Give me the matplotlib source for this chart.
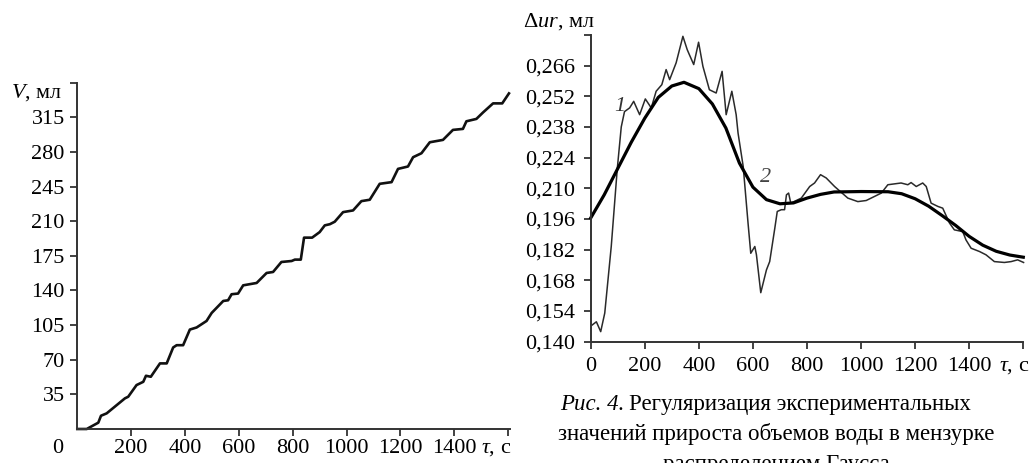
import matplotlib
matplotlib.use("Agg")
import matplotlib.pyplot as plt
from matplotlib.transforms import blended_transform_factory, IdentityTransform

plt.rcParams['font.family'] = ['Liberation Serif', 'DejaVu Serif']
plt.rcParams['mathtext.fontset'] = 'custom'
plt.rcParams['mathtext.rm'] = 'Liberation Serif'
plt.rcParams['mathtext.it'] = 'Liberation Serif:italic'

# ---- data: left chart (V, ml vs tau, s)
left_tau = [0, 35, 78, 88, 109, 177, 189, 220, 245, 255, 273, 307, 332, 356, 369, 393,
            418, 443, 480, 499, 542, 560, 573, 597, 616, 666, 703, 727, 758, 796, 808,
            830, 842, 872, 900, 919, 938, 956, 987, 1024, 1055, 1086, 1123, 1167, 1191,
            1228, 1247, 1278, 1309, 1358, 1395, 1432, 1445, 1482, 1507, 1544, 1578, 1603]
left_V = [0, 0, 6.4, 13.4, 15.8, 31, 32.6, 44.4, 47.7, 53.8, 52.8, 66.3, 66.3, 82.4, 84.7,
          84.7, 100.5, 102.6, 109.2, 117.3, 129.4, 130.1, 136.2, 136.9, 145.2, 147.6,
          157.7, 158.7, 168.8, 169.8, 171.2, 171.2, 193.4, 193.4, 199, 205.8, 207,
          209.5, 219.2, 220.9, 230.3, 231.7, 247.8, 249.5, 262.9, 265.3, 274.7, 278.7,
          289.8, 292.2, 302.3, 303.3, 311, 313.4, 320, 329.1, 329.1, 339.2]
left_yticks = [35, 70, 105, 140, 175, 210, 245, 280, 315]

# ---- data: right chart, curve 1 (experimental) and curve 2 (Gauss regularization)
r1_tau = [5, 21, 37, 52, 76, 98, 113, 125, 144, 159, 181, 202, 224, 242, 263, 279, 292,
          316, 341, 357, 365, 381, 399, 415, 439, 464, 486, 501, 522, 538, 545, 564,
          582, 592, 607, 613, 629, 650, 662, 681, 690, 705, 717, 724, 732, 740, 779,
          810, 828, 850, 871, 902, 951, 988, 1019, 1075, 1099, 1148, 1173, 1185, 1204,
          1228, 1241, 1259, 1284, 1302, 1327, 1345, 1376, 1388, 1407, 1438, 1462, 1493,
          1530, 1555, 1579, 1601]
r1_v = [.1475, .149, .1445, .153, .1834, .2185, .238, .245, .2467, .2497, .2436, .2508,
        .2467, .2543, .2573, .2642, .2596, .2673, .2794, .2733, .271, .2665, .2767,
        .2657, .255, .2535, .2634, .2436, .2543, .2436, .2352, .22, .194, .1803, .1834,
        .1796, .1623, .1727, .1765, .1918, .1994, .2002, .2002, .207, .2078, .2032,
        .2055, .2108, .2124, .2162, .2147, .2108, .2055, .2039, .2044, .2078, .2116,
        .2124, .2116, .2126, .2108, .2124, .2108, .2032, .2017, .2009, .1941, .191,
        .1902, .1864, .1826, .1811, .1796, .1765, .1761, .1765, .1773, .1761]
r2_tau = [0, 50, 100, 150, 200, 250, 300, 345, 400, 450, 500, 550, 600, 650, 700, 750,
          800, 850, 900, 1000, 1100, 1150, 1200, 1250, 1300, 1350, 1400, 1450, 1500,
          1550, 1600]
r2_v = [0.1964, 0.207, 0.219, 0.231, 0.242, 0.2515, 0.2567, 0.2584, 0.2555, 0.2485,
        0.2375, 0.2215, 0.2105, 0.2048, 0.2029, 0.2033, 0.2055, 0.2072, 0.2083, 0.2085,
        0.2084, 0.2075, 0.2052, 0.2018, 0.1975, 0.193, 0.188, 0.184, 0.1812, 0.1795,
        0.1785]
right_yticks = [0.140, 0.154, 0.168, 0.182, 0.196, 0.210, 0.224, 0.238, 0.252, 0.266]
xticks = [200, 400, 600, 800, 1000, 1200, 1400, 1600]
xtick_labels = ['200', '400', '600', '800', '1000', '1200', '1400', '']

caption_fig = "Рис. 4."
caption = ["Регуляризация экспериментальных",
           "значений прироста объемов воды в мензурке",
           "распределением Гаусса"]

W, H = 1035, 463
fig = plt.figure(figsize=(W / 100, H / 100), dpi=100)

FS = 16
AX_COLOR = '#333333'


def style(ax, xpad, ypad):
    for s in ('top', 'right'):
        ax.spines[s].set_visible(False)
    for s in ('left', 'bottom'):
        ax.spines[s].set_linewidth(1.4)
        ax.spines[s].set_color(AX_COLOR)
    ax.tick_params(axis='y', direction='out', length=5, width=1.3, pad=ypad,
                   labelsize=FS, color=AX_COLOR)
    ax.tick_params(axis='x', direction='out', length=5, width=1.3, pad=xpad,
                   labelsize=FS, color=AX_COLOR)


# ---------- left chart
axL = fig.add_axes([77.3 / W, 1 - 429 / H, (509.5 - 77.3) / W, (429 - 82.7) / H])
style(axL, xpad=2.5, ypad=4)
axL.plot(left_tau, left_V, color='#111111', lw=1.9, solid_joinstyle='round',
         clip_on=False)
axL.set_xlim(0, 1605)
axL.set_ylim(0, 350)
axL.set_xticks(xticks)
axL.set_xticklabels(xtick_labels)
axL.set_yticks(left_yticks + [350])
axL.set_yticklabels([str(v) for v in left_yticks] + [''])

# ---------- right chart
axR = fig.add_axes([590.7 / W, 1 - 341.5 / H, (1023.3 - 590.7) / W, (341.5 - 35) / H])
style(axR, xpad=6.5, ypad=6)
axR.plot(r1_tau, r1_v, color='#2a2a2a', lw=1.1, clip_on=False)
axR.plot(r2_tau, r2_v, color='black', lw=2.3, clip_on=False)
axR.set_xlim(0, 1600)
axR.set_ylim(0.140, 0.280)
axR.set_xticks([0] + xticks)
axR.set_xticklabels(['0'] + xtick_labels)
axR.set_yticks(right_yticks + [0.280])
axR.set_yticklabels([f"{v:.3f}".replace('.', ',') for v in right_yticks] + [''])

fig.canvas.draw()
bbL = axL.get_xticklabels()[0].get_window_extent()
bbR = axR.get_xticklabels()[1].get_window_extent()
ycL = (bbL.y0 + bbL.y1) / 2
ycR = (bbR.y0 + bbR.y1) / 2

axL.text(1557, ycL, '$\\tau$, с',
         transform=blended_transform_factory(axL.transData, IdentityTransform()),
         ha='center', va='center', fontsize=FS)
fig.text(57.5 / W, ycL / H, '0', ha='center', va='center', fontsize=FS)
fig.text(62 / W, 1 - 93 / H, '$V$, мл', ha='right', va='center', fontsize=FS)

axR.text(1567, ycR, '$\\tau$, с',
         transform=blended_transform_factory(axR.transData, IdentityTransform()),
         ha='center', va='center', fontsize=FS)
axR.text(107, 0.2474, '1', ha='center', va='center', fontsize=FS,
         style='italic', color='#333333')
axR.text(646, 0.2147, '2', ha='center', va='center', fontsize=FS,
         style='italic', color='#444444')
fig.text(523 / W, 1 - 21.5 / H, '$\\Delta ur$, мл', ha='left', va='center',
         fontsize=FS)

# ---------- caption
CFS = 16.5
base1 = 1 - 410 / H
t0 = fig.text(560 / W, base1, caption_fig, ha='left', va='baseline',
              fontsize=CFS, style='italic')
fig.canvas.draw()
ext = t0.get_window_extent()
fig.text((ext.x1 + 5) / W, base1, caption[0], ha='left', va='baseline', fontsize=CFS)
for i, line in enumerate(caption[1:], start=1):
    fig.text(776 / W, 1 - (410 + 30 * i) / H, line, ha='center', va='baseline',
             fontsize=CFS)

fig.savefig('out.png', dpi=100)
